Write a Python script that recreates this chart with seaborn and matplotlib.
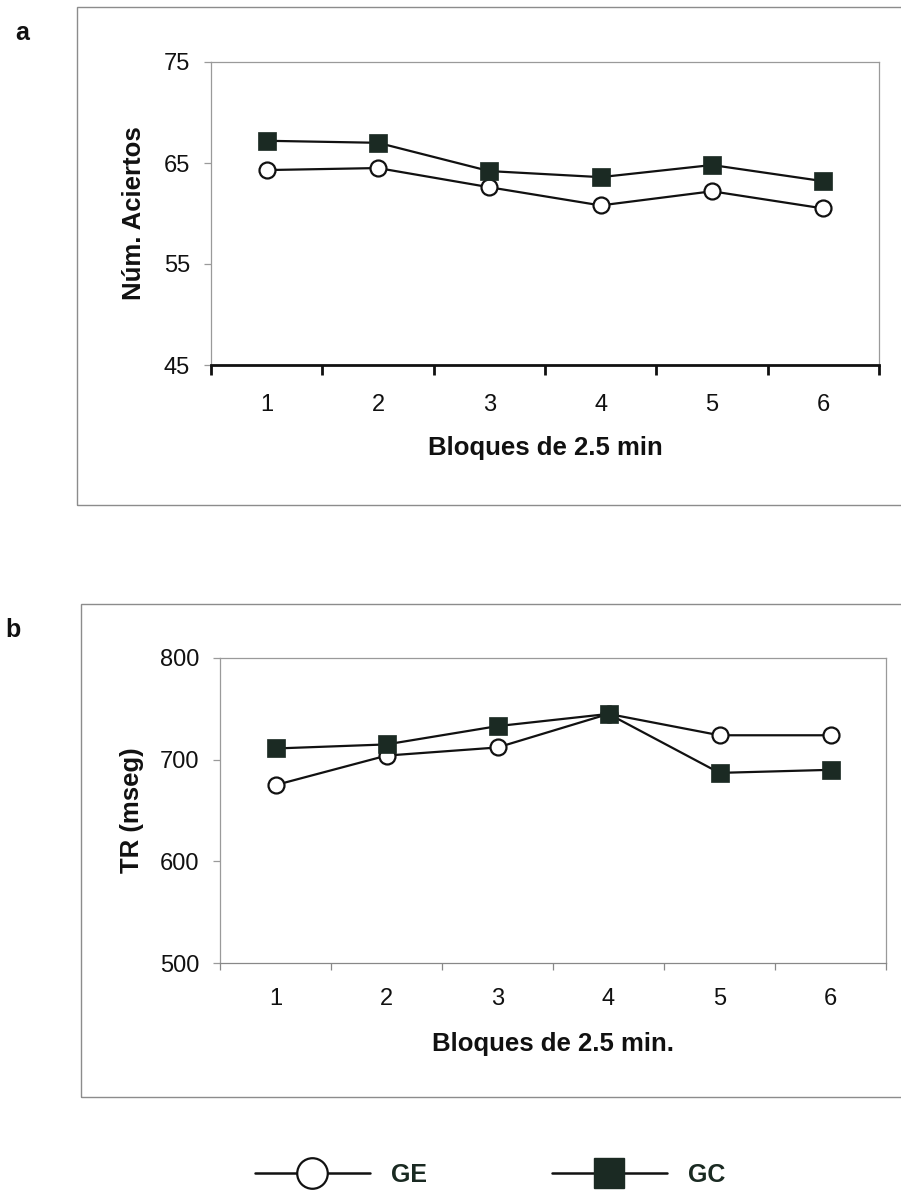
import matplotlib
matplotlib.use("Agg")
import matplotlib.pyplot as plt
from matplotlib.patches import Rectangle
from matplotlib.lines import Line2D
import seaborn as sns
import numpy as np
import pandas as pd

# ---- data ----
bloques = [1, 2, 3, 4, 5, 6]
aciertos_GE = [64.3, 64.5, 62.6, 60.8, 62.2, 60.5]
aciertos_GC = [67.2, 67.0, 64.2, 63.6, 64.8, 63.2]
tr_GE = [675, 704, 712, 745, 724, 724]
tr_GC = [711, 715, 733, 745, 687, 690]
grupos = ["GE", "GC"]

sns.set_theme(style="white")
plt.rcParams["font.family"] = ["Liberation Sans", "DejaVu Sans"]

W, H = 901, 1193
fig = plt.figure(figsize=(W / 100, H / 100), dpi=100)


def fx(px):
    return px / W


def fy(py):
    return 1 - py / H


LINE_C = "#111111"
SQ_C = "#1b2a23"
SPINE_C = "#9a9a9a"


def draw_panel(ax, ge, gc):
    sns.lineplot(x=bloques, y=ge, ax=ax, color=LINE_C, lw=1.6, marker="o",
                 markersize=11.5, markerfacecolor="white", markeredgecolor=LINE_C,
                 markeredgewidth=1.6, legend=False, zorder=3)
    sns.lineplot(x=bloques, y=gc, ax=ax, color=LINE_C, lw=1.6, marker="s",
                 markersize=13.5, markerfacecolor=SQ_C, markeredgecolor=SQ_C,
                 markeredgewidth=0.5, legend=False, zorder=4)
    ax.set_xlim(0.5, 6.5)
    ax.set_xticks(bloques)
    ax.set_xticklabels([str(b) for b in bloques])
    ax.set_xticks(np.arange(0.5, 7.0, 1.0), minor=True)
    for s in ["left", "top", "right", "bottom"]:
        ax.spines[s].set_visible(True)
        ax.spines[s].set_color(SPINE_C)
        ax.spines[s].set_linewidth(0.9)
    ax.grid(False)
    ax.set_facecolor("white")


# ---- panel a ----
ax1 = fig.add_axes([fx(211), fy(365), fx(879) - fx(211), fy(62) - fy(365)])
draw_panel(ax1, aciertos_GE, aciertos_GC)
ax1.set_ylim(45, 75)
ax1.set_yticks([45, 55, 65, 75])
ax1.spines["bottom"].set_color("#111111")
ax1.spines["bottom"].set_linewidth(2.0)
ax1.tick_params(axis="x", which="major", length=0, pad=21, labelsize=17, colors="#111111")
ax1.tick_params(axis="x", which="minor", length=7, width=2.0, color="#111111", direction="out", bottom=True)
ax1.tick_params(axis="y", which="major", length=5, width=0.9, color=SPINE_C, pad=10,
                labelsize=17, labelcolor="#111111", left=True, direction="out")
ax1.set_xlabel("Bloques de 2.5 min", fontsize=18.5, fontweight="bold", labelpad=14, color="#111111")
ax1.set_ylabel("Núm. Aciertos", fontsize=18.5, fontweight="bold", labelpad=13, color="#111111")

# ---- panel b ----
ax2 = fig.add_axes([fx(220), fy(963), fx(886) - fx(220), fy(658) - fy(963)])
draw_panel(ax2, tr_GE, tr_GC)
ax2.set_ylim(500, 800)
ax2.set_yticks([500, 600, 700, 800])
ax2.spines["bottom"].set_color("#888888")
ax2.tick_params(axis="x", which="major", length=0, pad=18, labelsize=17, colors="#111111")
ax2.tick_params(axis="x", which="minor", length=5, width=0.9, color="#888888", direction="out", bottom=True)
ax2.tick_params(axis="y", which="major", length=5, width=0.9, color=SPINE_C, pad=10,
                labelsize=17, labelcolor="#111111", left=True, direction="out")
ax2.set_xlabel("Bloques de 2.5 min.", fontsize=18.5, fontweight="bold", labelpad=16, color="#111111")
ax2.set_ylabel("TR (mseg)", fontsize=18.5, fontweight="bold", labelpad=11, color="#111111")

# ---- outer frames ----
fig.patches.append(Rectangle((fx(77), fy(505)), fx(910) - fx(77), fy(7) - fy(505),
                             transform=fig.transFigure, fill=False, ec="#8c8c8c", lw=1.0))
fig.patches.append(Rectangle((fx(81), fy(1097)), fx(910) - fx(81), fy(604) - fy(1097),
                             transform=fig.transFigure, fill=False, ec="#8c8c8c", lw=1.0))

# ---- panel letters ----
fig.text(fx(22), fy(33), "a", fontsize=18, fontweight="bold", ha="center", va="center", color="#111111")
fig.text(fx(13), fy(630), "b", fontsize=18, fontweight="bold", ha="center", va="center", color="#111111")

# ---- legend ----
h_ge = Line2D([], [], color=LINE_C, lw=1.8, marker="o", markersize=22,
              markerfacecolor="white", markeredgecolor=LINE_C, markeredgewidth=1.6)
h_gc = Line2D([], [], color=LINE_C, lw=1.8, marker="s", markersize=22,
              markerfacecolor=SQ_C, markeredgecolor=SQ_C)
leg = fig.legend([h_ge, h_gc], grupos, loc="center", bbox_to_anchor=(fx(490), fy(1175)),
                 ncol=2, frameon=False, handlelength=4.6, handletextpad=0.85,
                 columnspacing=5.0, borderpad=0,
                 prop={"family": ["Liberation Sans"], "weight": "bold", "size": 18})
for t in leg.get_texts():
    t.set_color("#1a2a22")

fig.savefig("out.png", dpi=100, facecolor="white")
